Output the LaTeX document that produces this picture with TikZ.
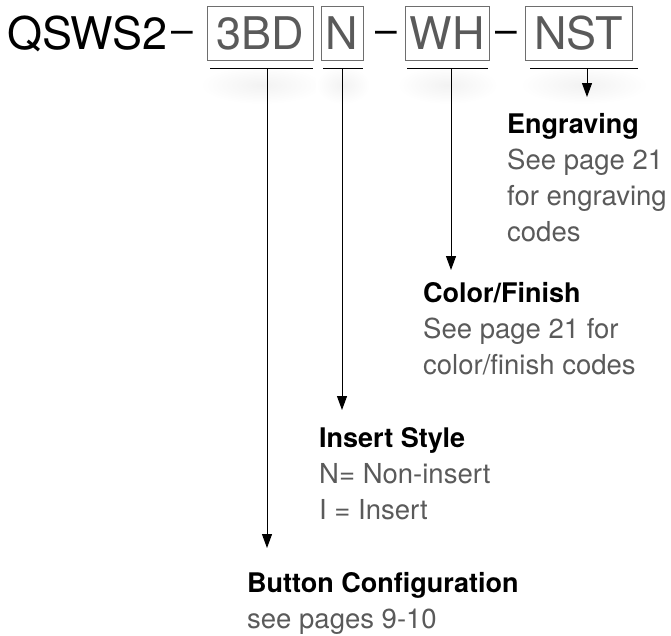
\documentclass[tikz,border=0pt]{standalone}
\usepackage{fontspec}
\setmainfont{TeX Gyre Heros}
\usetikzlibrary{arrows.meta}
\definecolor{txtgray}{HTML}{5A5A5A}
\definecolor{boxgray}{HTML}{6E6E6E}
\begin{document}
\begin{tikzpicture}[x=1pt,y=-1pt,
  bigtxt/.style={inner sep=0pt,anchor=base,font=\fontsize{45}{54}\selectfont},
  dashtxt/.style={inner sep=0pt,anchor=base,font=\fontsize{39}{44}\selectfont},
  codebox/.style={draw=boxgray,line width=0.9pt,inner sep=0pt,text=txtgray,
     minimum height=54pt,font=\fontsize{45}{54}\selectfont},
  uline/.style={line width=1pt,black},
  softshadow/.style={shading=radial,inner color=black!5,outer color=white},
  conn/.style={line width=1pt,black,-{Triangle[length=14pt,width=10pt]}},
  headtxt/.style={inner sep=0pt,anchor=base west,font=\fontsize{27}{32}\selectfont\bfseries},
  desctxt/.style={inner sep=0pt,anchor=base west,text=txtgray,font=\fontsize{27.5}{32}\selectfont},
]
\useasboundingbox (0,0) rectangle (671,635);

% soft shadows under the underlines
\shade[softshadow] (200,66) rectangle (323,104);
\shade[softshadow] (316,66) rectangle (370,104);
\shade[softshadow] (397,66) rectangle (498,104);
\shade[softshadow] (520,66) rectangle (648,104);

% code line
\node[bigtxt,anchor=base west] (model) at (7,49) {QSWS2};
\node[dashtxt] (d1) at (182.5,43.5) {–};
\node[codebox,minimum width=106pt] (b3bd) at (260,33) {3BD};
\node[codebox,minimum width=42pt] (bn) at (342,33) {N};
\node[dashtxt] (d2) at (386,43.5) {–};
\node[codebox,minimum width=84pt] (bwh) at (447,33) {WH};
\node[dashtxt] (d3) at (506.5,43.5) {–};
\node[codebox,minimum width=107pt] (bnst) at (578.5,33) {NST};

% underlines
\coordinate (u1a) at (210,68); \coordinate (u1b) at (313,68);
\coordinate (u2a) at (323,68); \coordinate (u2b) at (363,68);
\coordinate (u3a) at (407,68); \coordinate (u3b) at (488,68);
\coordinate (u4a) at (530,68); \coordinate (u4b) at (638,68);
\draw[uline] (u1a) -- (u1b);
\draw[uline] (u2a) -- (u2b);
\draw[uline] (u3a) -- (u3b);
\draw[uline] (u4a) -- (u4b);

% connector start and end points
\coordinate (s1) at (267,68); \coordinate (t1) at (267,548);
\coordinate (s2) at (342,68); \coordinate (t2) at (342,410);
\coordinate (s3) at (451,68); \coordinate (t3) at (451,270);
\coordinate (s4) at (587,68); \coordinate (t4) at (587,97);
\draw[conn] (s1) -- (t1);
\draw[conn] (s2) -- (t2);
\draw[conn] (s3) -- (t3);
\draw[conn] (s4) -- (t4);

% Engraving
\node[headtxt] (engh) at (507,133) {Engraving};
\node[desctxt] (eng1) at (507,169) {See page 21};
\node[desctxt] (eng2) at (507,205) {for engraving};
\node[desctxt] (eng3) at (507,241) {codes};

% Color/Finish
\node[headtxt] (colh) at (423,302) {Color/Finish};
\node[desctxt] (col1) at (423,338) {See page 21 for};
\node[desctxt] (col2) at (423,374) {color/finish codes};

% Insert Style
\node[headtxt] (insh) at (319,447) {Insert Style};
\node[desctxt] (ins1) at (319,483) {N= Non-insert};
\node[desctxt] (ins2) at (319,519) {I = Insert};

% Button Configuration
\node[headtxt] (btnh) at (247,592) {Button Configuration};
\node[desctxt] (btn1) at (247,628) {see pages 9-10};
\end{tikzpicture}
\end{document}
